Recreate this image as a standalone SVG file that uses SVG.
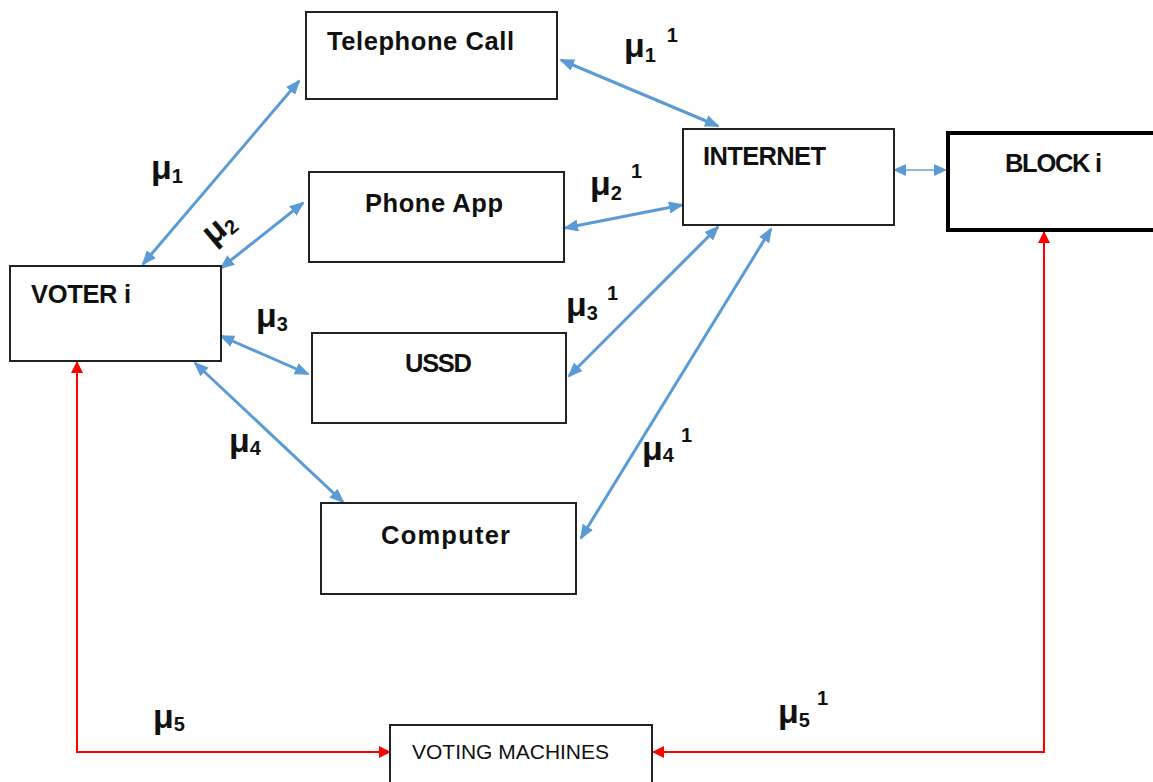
<svg xmlns="http://www.w3.org/2000/svg" width="1153" height="782" viewBox="0 0 1153 782">
<style>
.box{fill:#fff;stroke:#222;stroke-width:2}
.thick{fill:#fff;stroke:#000;stroke-width:4}
.lbl{font-family:"Liberation Sans",Arial,sans-serif;font-weight:bold;font-size:25.5px;fill:#111}
.vm{font-family:"Liberation Sans",Arial,sans-serif;font-size:21px;fill:#111}
.mu{font-family:"Liberation Sans",Arial,sans-serif;font-weight:bold;font-size:34px;fill:#111}
.s{font-size:20px;font-weight:bold}
.blue{fill:none;stroke:#5B9BD5;stroke-width:3}
.lblue{fill:none;stroke:#8DB7E2;stroke-width:2}
.red{fill:none;stroke:#FF0000;stroke-width:2}
</style>
<defs>
<marker id="ab" markerUnits="userSpaceOnUse" markerWidth="15" markerHeight="12" refX="13" refY="6" orient="auto-start-reverse">
<path d="M0,0 L15,6 L0,12 z" fill="#5B9BD5"/>
</marker>
<marker id="abs" markerUnits="userSpaceOnUse" markerWidth="13" markerHeight="12" refX="12" refY="6" orient="auto-start-reverse">
<path d="M0,0 L13,6 L0,12 z" fill="#5B9BD5"/>
</marker>
<marker id="ar" markerUnits="userSpaceOnUse" markerWidth="12" markerHeight="12" refX="11" refY="6" orient="auto-start-reverse">
<path d="M0,0 L12,6 L0,12 z" fill="#FF0000"/>
</marker>
</defs>
<rect width="1153" height="782" fill="#fff"/>
<g id="connectors">
<path class="blue" d="M143,264 L299,81" marker-start="url(#ab)" marker-end="url(#ab)"/>
<path class="blue" d="M221,268 L303,203" marker-start="url(#ab)" marker-end="url(#ab)"/>
<path class="blue" d="M221,336 L308,374" marker-start="url(#ab)" marker-end="url(#ab)"/>
<path class="blue" d="M195,363 L343,502" marker-start="url(#ab)" marker-end="url(#ab)"/>
<path class="blue" d="M561,60 L718,126" marker-start="url(#ab)" marker-end="url(#ab)"/>
<path class="blue" d="M565,228 L682,205" marker-start="url(#ab)" marker-end="url(#ab)"/>
<path class="blue" d="M569,376 L718,227" marker-start="url(#ab)" marker-end="url(#ab)"/>
<path class="blue" d="M581,538 L771,229" marker-start="url(#ab)" marker-end="url(#ab)"/>
<path class="lblue" d="M894,170 L946,170" marker-start="url(#abs)" marker-end="url(#abs)"/>
<path class="red" d="M390,752 H77 V362" marker-start="url(#ar)" marker-end="url(#ar)"/>
<path class="red" d="M653,752 H1044 V232" marker-start="url(#ar)" marker-end="url(#ar)"/>
</g>
<g id="telephone">
<rect class="box" x="306" y="12" width="251" height="87"/>
<text class="lbl" x="327" y="50" textLength="187">Telephone Call</text>
</g>
<g id="phoneapp">
<rect class="box" x="309" y="172" width="255" height="90"/>
<text class="lbl" x="365" y="212" textLength="138">Phone App</text>
</g>
<g id="voter">
<rect class="box" x="10" y="266" width="211" height="95"/>
<text class="lbl" x="31" y="303" textLength="100">VOTER i</text>
</g>
<g id="ussd">
<rect class="box" x="312" y="333" width="254" height="90"/>
<text class="lbl" x="405" y="372" textLength="67">USSD</text>
</g>
<g id="computer">
<rect class="box" x="321" y="503" width="255" height="91"/>
<text class="lbl" x="381" y="544" textLength="129">Computer</text>
</g>
<g id="internet">
<rect class="box" x="683" y="129" width="211" height="96"/>
<text class="lbl" x="703" y="165" textLength="123">INTERNET</text>
</g>
<g id="block">
<rect class="thick" x="948" y="133" width="220" height="97"/>
<text class="lbl" x="1005" y="172" textLength="97">BLOCK i</text>
</g>
<g id="votingmachines">
<rect class="box" x="390" y="725" width="262" height="70"/>
<text class="vm" x="412" y="759" textLength="197" lengthAdjust="spacingAndGlyphs">VOTING MACHINES</text>
</g>
<g id="labels">
<text class="mu" x="151" y="179">μ<tspan class="s" dy="4">1</tspan></text>
<text class="mu" transform="translate(213,246) rotate(-40)">μ<tspan class="s" dy="4">2</tspan></text>
<text class="mu" x="256" y="327">μ<tspan class="s" dy="4">3</tspan></text>
<text class="mu" x="229" y="452">μ<tspan class="s" dy="3">4</tspan></text>
<text class="mu" x="153" y="728">μ<tspan class="s" dy="3">5</tspan></text>
<text class="mu" x="624" y="57">μ<tspan class="s" dy="5">1</tspan><tspan class="s" dx="12" dy="-20">1</tspan></text>
<text class="mu" x="590" y="195">μ<tspan class="s" dy="5">2</tspan><tspan class="s" dx="9" dy="-22">1</tspan></text>
<text class="mu" x="566" y="316">μ<tspan class="s" dy="4">3</tspan><tspan class="s" dx="9" dy="-20">1</tspan></text>
<text class="mu" x="642" y="460">μ<tspan class="s" dy="2">4</tspan><tspan class="s" dx="7" dy="-20">1</tspan></text>
<text class="mu" x="778" y="723">μ<tspan class="s" dy="4">5</tspan><tspan class="s" dx="7" dy="-22">1</tspan></text>
</g>
</svg>
